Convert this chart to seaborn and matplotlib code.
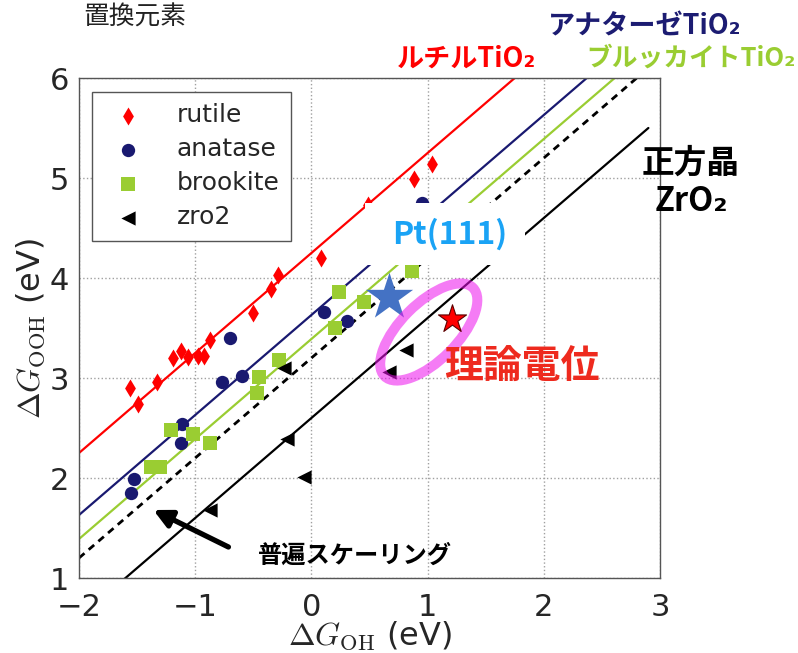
import numpy as np
import matplotlib
matplotlib.use("Agg")
import matplotlib.pyplot as plt
import seaborn as sns
from matplotlib.patches import Ellipse, Rectangle
from matplotlib.transforms import ScaledTranslation

# Adsorption free energies (eV): ΔG_OH vs ΔG_OOH for doped oxide surfaces
rutile_oh = [-1.56, -1.49, -1.33, -1.19, -1.12, -1.06, -0.98, -0.92, -0.87,
             -0.50, -0.35, -0.29, 0.08, 0.49, 0.88, 1.04]
rutile_ooh = [2.90, 2.74, 2.96, 3.20, 3.27, 3.21, 3.22, 3.22, 3.38,
              3.65, 3.89, 4.03, 4.20, 4.73, 4.99, 5.14]

anatase_oh = [-1.55, -1.53, -1.12, -1.11, -0.77, -0.70, -0.60, 0.11, 0.31, 0.95]
anatase_ooh = [1.85, 1.99, 2.35, 2.54, 2.96, 3.40, 3.02, 3.66, 3.57, 4.75]

brookite_oh = [-1.38, -1.30, -1.21, -1.02, -0.87, -0.47, -0.45, -0.28,
               0.20, 0.24, 0.45, 0.87]
brookite_ooh = [2.11, 2.11, 2.48, 2.44, 2.35, 2.85, 3.01, 3.18,
                3.50, 3.86, 3.76, 4.07]

zro2_oh = [-0.87, -0.21, -0.24, -0.065, 0.67, 0.81]
zro2_ooh = [1.68, 2.39, 3.10, 2.01, 3.06, 3.28]

# Reference points
pt111_oh, pt111_ooh = 0.67, 3.815
ideal_oh, ideal_ooh = 1.21, 3.59

# Linear scaling relations ΔG_OOH = ΔG_OH + b
fit_x = [-2.0, 2.9]
b_rutile = 4.25
b_anatase = 3.63
b_brookite = 3.39
b_universal = 3.20
b_zro2 = 2.60

RED = "#ff0000"
NAVY = "#191970"
GREEN = "#9acd32"

sns.set_style("white")
plt.rcParams["font.family"] = ["DejaVu Sans"]
plt.rcParams["mathtext.fontset"] = "cm"
JP = ["Noto Sans CJK JP", "DejaVu Sans"]

W, H = 798, 653
fig = plt.figure(figsize=(W / 100, H / 100), dpi=100)
ax = fig.add_axes([79 / W, 1 - 578 / H, 581 / W, 500 / H])

fx = np.array(fit_x)
ax.plot(fx, fx + b_rutile, color=RED, lw=1.6, zorder=2)
ax.plot(fx, fx + b_anatase, color=NAVY, lw=1.6, zorder=2)
ax.plot(fx, fx + b_brookite, color=GREEN, lw=1.6, zorder=2)
ax.plot(fx, fx + b_universal, color="black", lw=2.0, ls=(0, (2.6, 2.0)), zorder=2)
ax.plot(fx, fx + b_zro2, color="black", lw=1.6, zorder=2)

sns.scatterplot(x=rutile_oh, y=rutile_ooh, marker="d", s=84, color=RED,
                linewidth=0, label="rutile", ax=ax, zorder=3)
sns.scatterplot(x=anatase_oh, y=anatase_ooh, marker="o", s=92, color=NAVY,
                linewidth=0, label="anatase", ax=ax, zorder=3)
sns.scatterplot(x=brookite_oh, y=brookite_ooh, marker="s", s=88, color=GREEN,
                linewidth=0, label="brookite", ax=ax, zorder=3)
sns.scatterplot(x=zro2_oh, y=zro2_ooh, marker="<", s=105, color="black",
                linewidth=0, label="zro2", ax=ax, zorder=3)

ax.scatter([pt111_oh], [pt111_ooh], marker="*", s=1280, color="#4472c4",
           linewidths=0, zorder=4)
ax.scatter([ideal_oh], [ideal_ooh], marker="*", s=450, color="#ff0000",
           edgecolors="#5a0000", linewidths=0.8, zorder=6)

# Highlight around the theoretical-potential region
trans = fig.dpi_scale_trans + ScaledTranslation(1.01, 3.46, ax.transData)
ax.add_patch(Ellipse((0, 0), width=1.25, height=0.57, angle=45,
                     transform=trans, fill=False, edgecolor="#ee11ee",
                     alpha=0.55, lw=7.2, zorder=5))

# White label panel for Pt(111)
ax.add_patch(Rectangle((0.465, 4.13), 1.375, 0.615, facecolor="white",
                       edgecolor="none", zorder=7))
ax.text(1.19, 4.44, "Pt(111)", fontsize=23, fontweight="bold", color="#1aa3f5",
        ha="center", va="center", family=JP, zorder=8)

ax.set_xlim(-2, 3)
ax.set_ylim(1, 6)
ax.set_xticks(range(-2, 4))
ax.set_yticks(range(1, 7))
ax.tick_params(labelsize=22, length=0)
ax.tick_params(axis="x", pad=11)
ax.tick_params(axis="y", pad=7)
ax.grid(True, ls=":", color="#a0a0a0", lw=1)
for sp in ax.spines.values():
    sp.set_color("#555555")
    sp.set_linewidth(1.0)
ax.set_xlabel(r"$\Delta G_{\rm OH}$ (eV)", fontsize=23, labelpad=-2)
ax.set_ylabel(r"$\Delta G_{\rm OOH}$ (eV)", fontsize=23, labelpad=2)

handles, labels = ax.get_legend_handles_labels()
leg = ax.legend(handles, labels, loc="upper left",
                bbox_to_anchor=(13 / 581, 486 / 500), borderaxespad=0,
                fontsize=18, frameon=True, fancybox=False, edgecolor="#555555",
                framealpha=1, borderpad=0.45, handlelength=2.0,
                handletextpad=0.95, labelspacing=0.4, scatterpoints=1)
leg.get_frame().set_linewidth(1.0)

# Arrow pointing at the universal scaling line
ax.annotate("", xy=(-1.36, 1.68), xytext=(-0.714, 1.31),
            arrowprops=dict(arrowstyle="-|>", lw=3.8, color="black",
                            mutation_scale=27, shrinkA=0, shrinkB=0), zorder=6)

def ftext(x, y, s, **kw):
    fig.text(x / W, 1 - y / H, s, family=JP, **kw)

ftext(83, 18, "置換元素", fontsize=18.5, ha="left", va="center", color="#222222")
ftext(466, 59, "ルチルTiO₂", fontsize=19.5, fontweight="bold", color=RED,
      ha="center", va="center")
ftext(645, 26, "アナターゼTiO₂", fontsize=19.5, fontweight="bold", color="#1c1c72",
      ha="center", va="center")
ftext(796, 58, "ブルッカイトTiO₂", fontsize=18.5, fontweight="bold", color=GREEN,
      ha="right", va="center")
ftext(691, 182, "正方晶\nZrO₂", fontsize=23.5, fontweight="bold", color="black",
      ha="center", va="center", multialignment="center", linespacing=1.2)
ftext(522, 367, "理論電位", fontsize=28, fontweight="bold", color="#ee2a1e",
      ha="center", va="center")
ftext(355, 556, "普遍スケーリング", fontsize=17.5, fontweight="bold", color="black",
      ha="center", va="center")

fig.savefig("out.png", dpi=100)
